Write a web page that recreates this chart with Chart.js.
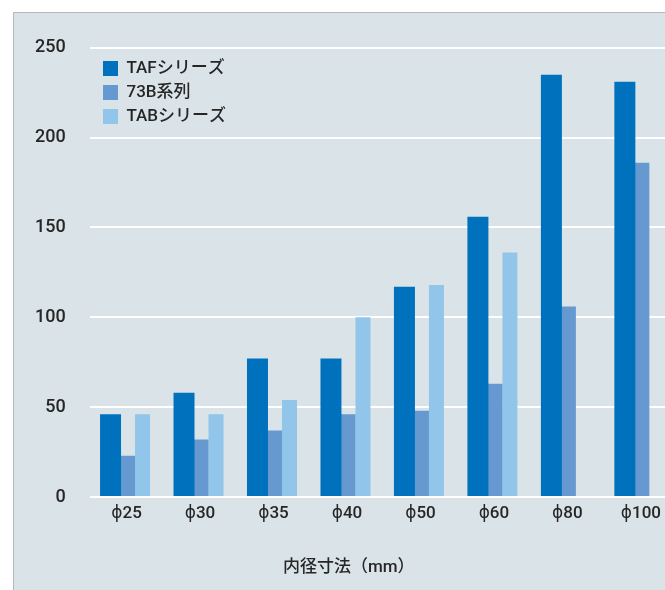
<!DOCTYPE html>
<html lang="ja">
<head>
<meta charset="utf-8">
<script src="https://cdn.jsdelivr.net/npm/chart.js@4/dist/chart.umd.min.js"></script>
<style>
  html, body { margin: 0; padding: 0; background: #fff; overflow: hidden; }
  body { width: 665px; height: 590px; position: relative; }
  #frame {
    position: absolute; left: 13px; top: 12px; width: 700px; height: 620px;
    background: #dae4e8; border-left: 1px solid #b8b8b8; border-top: 1px solid #b8b8b8;
  }
  #chart { position: absolute; left: 0; top: 0; }
</style>
</head>
<body>
<div id="frame"></div>
<canvas id="chart" width="690" height="590"></canvas>
<script>
  // 内径寸法ごとの値
  const categories = ["ϕ25", "ϕ30", "ϕ35", "ϕ40", "ϕ50", "ϕ60", "ϕ80", "ϕ100"];
  const tafValues = [46, 58, 77, 77, 117, 156, 235, 231];
  const b73Values = [23, 32, 37, 46, 48, 63, 106, 186];
  const tabValues = [46, 46, 54, 100, 118, 136, null, null];
  const yTicks = [0, 50, 100, 150, 200, 250];

  const FONT = 'Roboto, "Noto Sans CJK JP", "DejaVu Sans", sans-serif';
  const TEXT = "#262626";

  // 凡例をグラフ領域の左上に寄せる
  const legendShift = {
    id: "legendShift",
    afterLayout: function (chart) {
      chart.legend.left = chart.chartArea.left + 6.2;
      chart.legend.top = chart.chartArea.top + 5.3;
    },
  };

  let ctx = document.getElementById("chart").getContext("2d");
  let myChart = new Chart(ctx, {
    type: "bar",
    data: {
      labels: categories,
      datasets: [
        {
          label: "TAFシリーズ",
          data: tafValues,
          backgroundColor: "#0071bc",
          barPercentage: 1.3125,
          categoryPercentage: 0.6533,
        },
        {
          label: "73B系列",
          data: b73Values,
          backgroundColor: "#6699cf",
          barPercentage: 1.0625,
          categoryPercentage: 0.6533,
        },
        {
          label: "TABシリーズ",
          data: tabValues,
          backgroundColor: "#92c5ea",
          barPercentage: 0.9375,
          categoryPercentage: 0.6533,
        },
      ],
    },
    plugins: [legendShift],
    options: {
      responsive: false,
      animation: false,
      layout: { padding: { top: 47.7, right: 12.4, bottom: 0, left: 20 } },
      plugins: {
        tooltip: { enabled: false },
        legend: {
          position: "chartArea",
          align: "start",
          labels: {
            boxWidth: 15,
            boxHeight: 15,
            padding: 7,
            color: TEXT,
            font: { family: FONT, size: 17, weight: "500" },
          },
        },
        title: {
          display: true,
          position: "bottom",
          text: "内径寸法（mm）",
          color: TEXT,
          font: { family: FONT, size: 17, weight: "500" },
          padding: { top: 0, bottom: 12 },
        },
      },
      scales: {
        x: {
          grid: { display: false, drawTicks: false },
          border: { display: false },
          ticks: { color: TEXT, padding: 7, font: { family: FONT, size: 17, weight: "500" } },
          afterFit: function (scale) {
            scale.height = 60.6;
          },
        },
        y: {
          min: 0,
          max: 250,
          afterBuildTicks: function (scale) {
            scale.ticks = yTicks.map(function (v) { return { value: v }; });
          },
          grid: { color: "#ffffff", lineWidth: 2, drawTicks: false },
          border: { display: false },
          ticks: { color: TEXT, padding: 24, font: { family: FONT, size: 18, weight: "500" } },
          afterFit: function (scale) {
            scale.width = 69.8;
          },
        },
      },
    },
  });
</script>
</body>
</html>
